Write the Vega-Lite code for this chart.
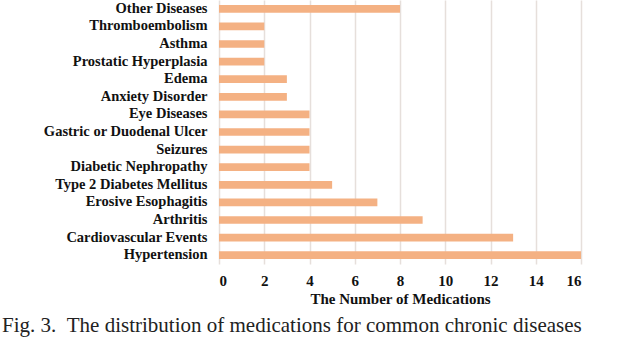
{
  "$schema": "https://vega.github.io/schema/vega-lite/v6.json",
  "autosize": "none",
  "width": 362,
  "height": 264,
  "padding": {"left": 219, "top": 0, "right": 41, "bottom": 76},
  "background": "white",
  "config": {"view": {"stroke": null}, "font": "Liberation Serif"},
  "title": {
    "text": "Fig. 3.\u00a0\u00a0The distribution of medications for common chronic diseases",
    "orient": "bottom",
    "anchor": "start",
    "frame": "group",
    "dx": -217,
    "offset": 9,
    "font": "Liberation Serif",
    "fontSize": 21,
    "fontWeight": "normal",
    "color": "#222"
  },
  "data": {
    "values": [
      {"disease": "Other Diseases", "n": 8},
      {"disease": "Thromboembolism", "n": 2},
      {"disease": "Asthma", "n": 2},
      {"disease": "Prostatic Hyperplasia", "n": 2},
      {"disease": "Edema", "n": 3},
      {"disease": "Anxiety Disorder", "n": 3},
      {"disease": "Eye Diseases", "n": 4},
      {"disease": "Gastric or Duodenal Ulcer", "n": 4},
      {"disease": "Seizures", "n": 4},
      {"disease": "Diabetic Nephropathy", "n": 4},
      {"disease": "Type 2 Diabetes Mellitus", "n": 5},
      {"disease": "Erosive Esophagitis", "n": 7},
      {"disease": "Arthritis", "n": 9},
      {"disease": "Cardiovascular Events", "n": 13},
      {"disease": "Hypertension", "n": 16}
    ]
  },
  "mark": {"type": "bar", "color": "#F4B183"},
  "encoding": {
    "y": {
      "field": "disease",
      "type": "nominal",
      "sort": null,
      "scale": {"paddingInner": 0.56, "paddingOuter": 0.28},
      "axis": {
        "title": null,
        "ticks": false,
        "domain": false,
        "labelPadding": 12,
        "labelFont": "Liberation Serif",
        "labelFontSize": 14.5,
        "labelFontWeight": "bold",
        "labelColor": "#111",
        "labelLimit": 300
      }
    },
    "x": {
      "field": "n",
      "type": "quantitative",
      "scale": {"domain": [0, 16], "nice": false},
      "axis": {
        "title": "The Number of Medications",
        "values": [0, 2, 4, 6, 8, 10, 12, 14, 16],
        "ticks": false,
        "domain": false,
        "grid": true,
        "gridColor": "#e6dfdb",
        "gridWidth": 1.5,
        "labelPadding": 9,
        "labelFont": "Liberation Serif",
        "labelFontSize": 15,
        "labelFontWeight": "bold",
        "labelColor": "#111",
        "titleFont": "Liberation Serif",
        "titleFontSize": 15,
        "titleFontWeight": "bold",
        "titleColor": "#111",
        "titlePadding": 3
      }
    }
  }
}
